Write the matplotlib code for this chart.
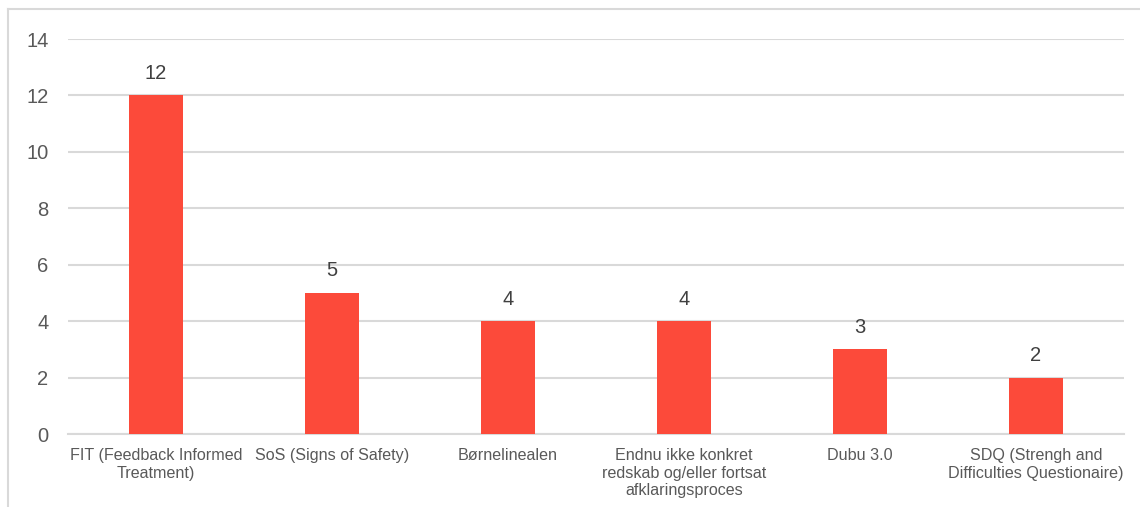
import matplotlib.pyplot as plt
from matplotlib.lines import Line2D

categories = ["FIT (Feedback Informed\nTreatment)", "SoS (Signs of Safety)", "Børnelinealen",
              "Endnu ikke konkret\nredskab og/eller fortsat\nafklaringsproces", "Dubu 3.0",
              "SDQ (Strengh and\nDifficulties Questionaire)"]
values = [12, 5, 4, 4, 3, 2]
yticks = [0, 2, 4, 6, 8, 10, 12, 14]

plt.rcParams['font.family'] = ['Liberation Sans', 'DejaVu Sans']
grey = '#595959'
grid = '#d9d9d9'

fig = plt.figure(figsize=(11.4, 5.07), dpi=100)
ax = fig.add_axes([68/1140, 73/507, 1056/1140, 395/507])

x = range(len(categories))
bars = ax.bar(x, values, width=0.31, color='#fc4a3a', zorder=3)
for b, v in zip(bars, values):
    ax.annotate(str(v), (b.get_x() + b.get_width()/2, v), xytext=(0, 9), textcoords='offset points',
                ha='center', va='bottom', fontsize=14.5, color='#404040')

ax.set_xlim(-0.5, len(categories) - 0.5)
ax.set_ylim(0, 14)
ax.set_yticks(yticks)
ax.set_xticks(list(x))
ax.set_xticklabels(categories, fontsize=11.6, color=grey, linespacing=1.22)
ax.tick_params(axis='y', labelsize=14.5, labelcolor=grey, length=0, pad=14)
ax.tick_params(axis='x', length=0, pad=10)
ax.grid(axis='y', color=grid, linewidth=1.5, zorder=0)
for s in ['top', 'right', 'left']:
    ax.spines[s].set_visible(False)
ax.spines['bottom'].set_color(grid)
ax.spines['bottom'].set_linewidth(1.5)

fig.add_artist(Line2D([8/1140, 8/1140], [0, 1 - 9/507], color=grid, linewidth=1.5))
fig.add_artist(Line2D([8/1140, 1], [1 - 9/507, 1 - 9/507], color=grid, linewidth=1.5))

fig.savefig('out.png')
